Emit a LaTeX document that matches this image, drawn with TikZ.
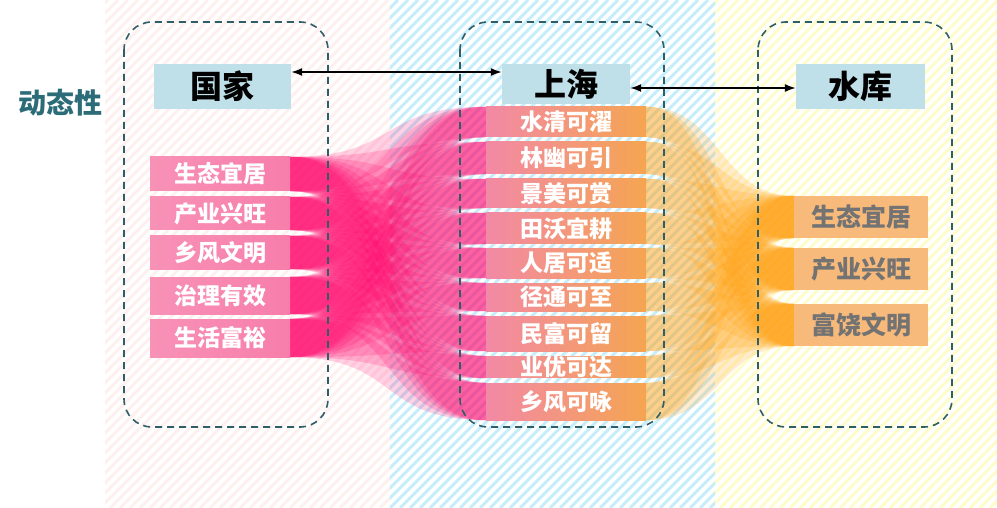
\documentclass[tikz,border=0pt]{standalone}
\usepackage{fontspec}
\setmainfont{Noto Sans CJK SC}
\usetikzlibrary{arrows.meta}
\pgfdeclarelayer{back}
\pgfdeclarelayer{bands}
\pgfsetlayers{back,bands,main}
\definecolor{hdblue}{HTML}{BFE0E8}
\definecolor{leftpink}{HTML}{F77EAA}
\definecolor{midpink}{HTML}{F289A6}
\definecolor{midorange}{HTML}{F5A551}
\definecolor{rightorange}{HTML}{F8BA7A}
\definecolor{framegreen}{HTML}{2F5E66}
\definecolor{teallabel}{HTML}{2B6C78}
\definecolor{bandpink}{HTML}{FF0A6E}
\definecolor{bandorange}{HTML}{FFA012}
\tikzset{
  headbox/.style={fill=hdblue,inner sep=0pt,font=\bfseries\fontsize{32}{32}\selectfont},
  leftbox/.style={left color=leftpink!85!white,right color=leftpink,text=white,inner sep=0pt,
    minimum width=140pt,font=\bfseries\fontsize{23}{23}\selectfont},
  midbox/.style={left color=midpink,right color=midorange,text=white,inner sep=0pt,
    minimum width=160pt,font=\bfseries\fontsize{23}{23}\selectfont},
  rightbox/.style={fill=rightorange,text=black!55,inner sep=0pt,
    minimum width=134pt,minimum height=42pt,font=\bfseries\fontsize{25}{25}\selectfont},
  frame/.style={dashed,dash pattern=on 7pt off 5pt,framegreen,line width=1.6pt,rounded corners=28pt},
  pinkband/.style={fill=bandpink,fill opacity=0.19},
  orangeband/.style={fill=bandorange,fill opacity=0.2},
  link/.style={{Latex[length=11pt,width=8pt]}-{Latex[length=11pt,width=8pt]},line width=1.6pt}
}
\begin{document}
\begin{tikzpicture}[x=1pt,y=-1pt]
  \useasboundingbox (0,0) rectangle (997,508);
  % striped background
  \begin{pgfonlayer}{back}
    \begin{scope}
      \clip (105,0) rectangle (390,508);
      \foreach \k in {-410,-400,...,400} \draw[red!6,line width=3pt] (\k,508) -- ++(508,-508);
    \end{scope}
    \begin{scope}
      \clip (390,0) rectangle (715,508);
      \foreach \k in {-120,-110,...,720} \draw[cyan!22,line width=3pt] (\k,508) -- ++(508,-508);
    \end{scope}
    \begin{scope}
      \clip (715,0) rectangle (997,508);
      \foreach \k in {200,210,...,1000} \draw[yellow!20,line width=3pt] (\k,508) -- ++(508,-508);
    \end{scope}
  \end{pgfonlayer}
  % groups
  \draw[frame] (124,22) rectangle (328,427);
  \draw[frame] (460,22) rectangle (664,427);
  \draw[frame] (758,22) rectangle (952,427);
  \node[text=teallabel,font=\bfseries\fontsize{28}{28}\selectfont] (dyn) at (61,103) {动态性};
  % headers
  \node[headbox,minimum width=137pt,minimum height=45pt] (gj) at (222.5,86.5) {国家};
  \node[headbox,minimum width=128pt,minimum height=40pt] (sh) at (566,84) {上海};
  \node[headbox,minimum width=129pt,minimum height=45pt] (sk) at (860.5,86.5) {水库};
  \draw[link] ([yshift=14.5pt]gj.east) -- ([yshift=12pt]sh.west);
  \draw[link] ([yshift=-4pt]sh.east) -- ([yshift=-1.5pt]sk.west);
  % boxes
  \foreach \n/\t/\y/\h in {l1/生态宜居/174/34, l2/产业兴旺/213.5/33, l3/乡风文明/252.5/33,
      l4/治理有效/295.5/37, l5/生活富裕/338/38}
    \node[leftbox,minimum height=\h pt] (\n) at (220,\y) {\t};
  \foreach \n/\t/\y/\h in {m1/水清可濯/122/30, m2/林幽可引/158/32, m3/景美可赏/193.5/29,
      m4/田沃宜耕/228.5/31, m5/人居可适/263/30, m6/径通可至/297/28, m7/民富可留/333.5/35,
      m8/业优可达/367/20, m9/乡风可咏/401.5/37}
    \node[midbox,minimum height=\h pt] (\n) at (566,\y) {\t};
  \foreach \n/\t/\y in {r1/生态宜居/217, r2/产业兴旺/269, r3/富饶文明/325}
    \node[rightbox] (\n) at (861,\y) {\t};
  % flows
  \begin{pgfonlayer}{bands}
    \foreach \i in {1,...,5}
      \foreach \j in {1,...,9}
        \fill[pinkband] (l\i.north east) .. controls +(110,0) and +(-110,0) .. (m\j.north west)
          -- (m\j.south west) .. controls +(-110,0) and +(110,0) .. (l\i.south east) -- cycle;
    \foreach \j in {1,...,9}
      \foreach \k in {1,2,3}
        \fill[orangeband] (m\j.north east) .. controls +(75,0) and +(-75,0) .. (r\k.north west)
          -- (r\k.south west) .. controls +(-75,0) and +(75,0) .. (m\j.south east) -- cycle;
  \end{pgfonlayer}
\end{tikzpicture}
\end{document}
